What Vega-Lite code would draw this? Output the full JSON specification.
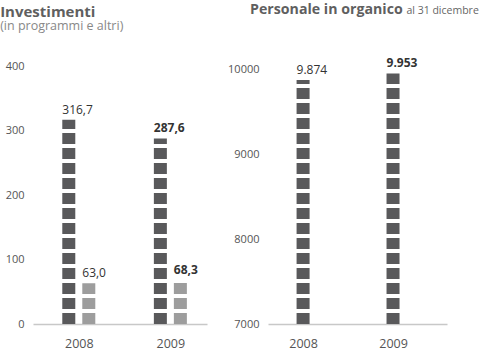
{
  "$schema": "https://vega.github.io/schema/vega-lite/v6.json",
  "background": "white",
  "padding": {"left": 0, "top": 2, "right": 0, "bottom": 0},
  "bounds": "flush",
  "spacing": 61,
  "config": {
    "font": "Open Sans",
    "view": {"stroke": null},
    "locale": {"number": {"decimal": ",", "thousands": ".", "grouping": [3], "currency": ["", " €"]}},
    "axis": {"labelFont": "Open Sans", "labelColor": "#555555", "labelFontSize": 11, "ticks": false, "grid": false}
  },
  "hconcat": [
    {
      "width": 174,
      "height": 258,
      "title": {"text": "Investimenti", "subtitle": "(in programmi e altri)", "anchor": "start", "frame": "bounds", "fontSize": 15, "fontWeight": "bold", "color": "#5f5f5f", "subtitleFontSize": 12.5, "subtitleColor": "#888888", "subtitlePadding": 0, "offset": 28, "dx": -5},
      "data": {"values": [
        {"year": 2008, "kind": "programmi", "value": 316.7},
        {"year": 2009, "kind": "programmi", "value": 287.6},
        {"year": 2008, "kind": "altri", "value": 63.0},
        {"year": 2009, "kind": "altri", "value": 68.3}
      ]},
      "encoding": {
        "x": {"field": "year", "type": "quantitative", "scale": {"domain": [2007.5, 2009.4], "nice": false, "zero": false},
              "axis": {"values": [2008, 2009], "format": "d", "title": null, "domainColor": "#c8c8c8", "domainWidth": 1.5, "labelPadding": 13, "labelFontSize": 12.5, "labelFlush": false}}
      },
      "layer": [
        {"transform": [{"filter": "datum.kind === 'programmi'"}],
         "mark": {"type": "rule", "strokeWidth": 13, "strokeDash": [11, 4], "color": "#59595b", "xOffset": -10,
                  "strokeDashOffset": {"expr": "((-(datum.value * 0.645) - 4) % 15 + 15) % 15"}},
         "encoding": {
           "y": {"field": "value", "type": "quantitative", "scale": {"domain": [0, 400], "nice": false},
                 "axis": {"values": [0, 100, 200, 300, 400], "title": null, "domain": false, "labelPadding": 9}},
           "y2": {"datum": 0}
         }},
        {"transform": [{"filter": "datum.kind === 'altri'"}],
         "mark": {"type": "rule", "strokeWidth": 13, "strokeDash": [11, 4], "color": "#9d9d9d", "xOffset": 10,
                  "strokeDashOffset": {"expr": "((-(datum.value * 0.645) - 4) % 15 + 15) % 15"}},
         "encoding": {
           "y": {"field": "value", "type": "quantitative"},
           "y2": {"datum": 0}
         }},
        {"transform": [{"filter": "datum.kind === 'programmi'"}],
         "mark": {"type": "text", "align": "left", "baseline": "alphabetic", "dy": -6, "xOffset": -16.5, "fontSize": 12, "color": "#333333",
                  "fontWeight": {"expr": "datum.year === 2009 ? 'bold' : 'normal'"}},
         "encoding": {
           "y": {"field": "value", "type": "quantitative"},
           "text": {"field": "value", "type": "quantitative", "format": ",.1f"}
         }},
        {"transform": [{"filter": "datum.kind === 'altri'"}],
         "mark": {"type": "text", "align": "left", "baseline": "alphabetic", "dy": -6, "xOffset": 3.5, "fontSize": 12, "color": "#333333",
                  "fontWeight": {"expr": "datum.year === 2009 ? 'bold' : 'normal'"}},
         "encoding": {
           "y": {"field": "value", "type": "quantitative"},
           "text": {"field": "value", "type": "quantitative", "format": ",.1f"}
         }}
      ]
    },
    {
      "width": 179,
      "height": 258,
      "title": {"text": "Personale in organico", "anchor": "start", "frame": "group", "fontSize": 14.2, "fontWeight": "bold", "color": "#5f5f5f", "offset": -12, "dx": -18},
      "data": {"values": [
        {"year": 2008, "value": 9874},
        {"year": 2009, "value": 9953}
      ]},
      "encoding": {
        "x": {"field": "year", "type": "quantitative", "scale": {"domain": [2007.61, 2009.6], "nice": false, "zero": false},
              "axis": {"values": [2008, 2009], "format": "d", "title": null, "domainColor": "#c8c8c8", "domainWidth": 1.5, "labelPadding": 13, "labelFontSize": 12.5, "labelFlush": false}}
      },
      "layer": [
        {"mark": {"type": "rule", "strokeWidth": 13, "strokeDash": [11, 4], "color": "#59595b",
                  "strokeDashOffset": {"expr": "((-((datum.value - 7000) * 258 / 3040) - 4) % 15 + 15) % 15"}},
         "encoding": {
           "y": {"field": "value", "type": "quantitative", "scale": {"domain": [7000, 10040], "nice": false, "zero": false},
                 "axis": {"values": [7000, 8000, 9000, 10000], "format": "d", "domain": false, "labelPadding": 9,
                          "title": "al 31 dicembre", "titleAngle": 0, "titleAlign": "left", "titleBaseline": "alphabetic",
                          "titleX": 138, "titleY": -53, "titleFontSize": 10.5, "titleFontWeight": "normal", "titleColor": "#666666"}},
           "y2": {"datum": 7000}
         }},
        {"mark": {"type": "text", "align": "left", "baseline": "alphabetic", "dy": -6, "xOffset": -6.5, "fontSize": 12, "color": "#333333",
                  "fontWeight": {"expr": "datum.year === 2009 ? 'bold' : 'normal'"}},
         "encoding": {
           "y": {"field": "value", "type": "quantitative"},
           "text": {"field": "value", "type": "quantitative", "format": ",.0f"}
         }}
      ]
    }
  ]
}
